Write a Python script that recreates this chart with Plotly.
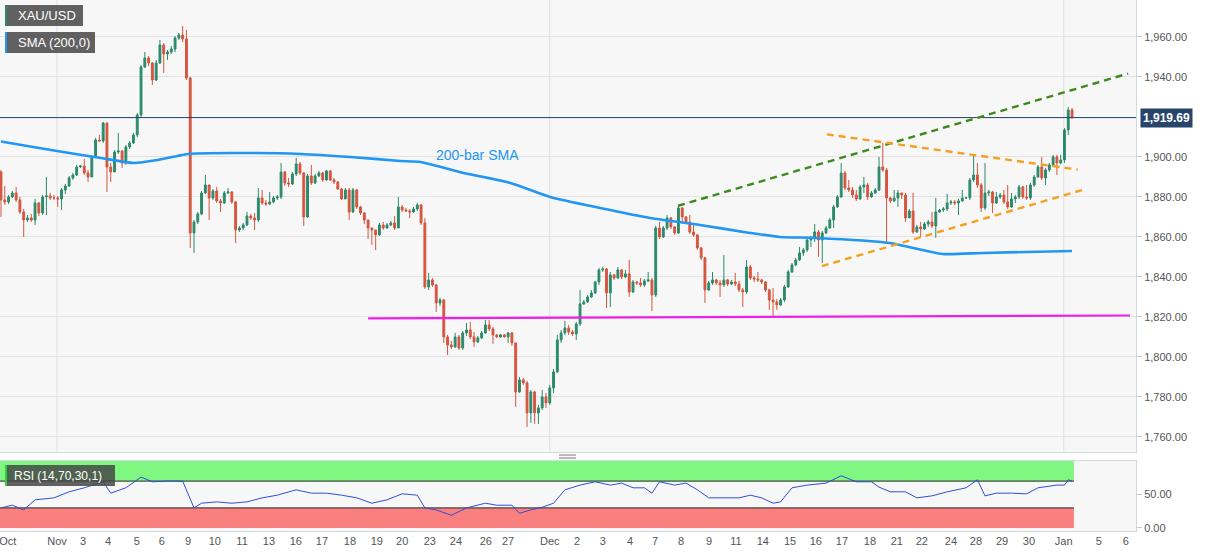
import plotly.graph_objects as go

# ---------------- data (4h candles, XAU/USD) ----------------
first_open = 1892.5
closes = [
    1878.5, 1877.5, 1880, 1882, 1878.5, 1872.5, 1868.5, 1869.5, 1868.5, 1877,
    1872, 1880, 1880.5, 1879.5, 1879.5, 1879, 1883.5, 1885.5, 1889.5, 1891,
    1895, 1895.5, 1892, 1890, 1900, 1908.5, 1908, 1917, 1895, 1892.5,
    1902.5, 1903, 1897, 1905, 1907, 1911, 1921, 1945, 1949.5, 1947,
    1938.5, 1947, 1956, 1951.5, 1952.5, 1954, 1959.5, 1961, 1959, 1939.5,
    1862,
    1867.5, 1871.5, 1882, 1886, 1879.5, 1883, 1878, 1877, 1882, 1882.5,
    1877.5, 1863.5, 1864.5, 1866, 1870.5, 1869.5, 1868.5, 1879.5, 1877, 1876.5,
    1877.5, 1879.5, 1880, 1892.5, 1887, 1886.5, 1891.5, 1896.5, 1892, 1870,
    1890.5, 1887, 1890.5, 1892, 1888.5, 1893, 1888.5, 1887.5, 1884, 1879,
    1883.5, 1872.5, 1883.5, 1875, 1872, 1868.5, 1864.5,
    1863.5, 1861, 1866, 1864.5, 1866, 1867, 1864.5, 1875, 1873.5, 1873,
    1872.5, 1874, 1876, 1867, 1835, 1838.5, 1836, 1827, 1828.5, 1810,
    1806, 1805, 1810, 1804.5, 1812, 1813.5, 1810, 1807.5, 1809.5, 1812,
    1816, 1814, 1811, 1810, 1811, 1810, 1812, 1807, 1782.5, 1788.5,
    1787, 1772, 1782.5, 1772, 1774.5, 1780, 1777, 1784.5, 1792.5,
    1808.5, 1812, 1814.5, 1812.5, 1811.5, 1816.5, 1826.5, 1827.5, 1830, 1832,
    1837.5, 1843.5, 1844, 1832, 1841, 1839.5, 1843.5, 1840, 1841.5, 1832.5,
    1837.5, 1837, 1836, 1838, 1838.5, 1831, 1864.5, 1860, 1864.5, 1869.5,
    1865, 1862, 1874.5, 1870, 1867.5, 1862.5, 1861, 1854.5, 1849.5, 1833.5,
    1837, 1838.5, 1837, 1836, 1838.5, 1836.5,
    1837.5, 1836.5, 1833.5, 1832.5, 1845, 1839.5, 1839, 1838.5, 1837.5, 1833.5,
    1828.5, 1827.5, 1826, 1828.5, 1835, 1842.5, 1846, 1848.5, 1852, 1853.5,
    1858.5, 1859.5, 1862.5, 1858.5, 1862, 1864.5, 1868.5, 1875, 1880, 1892,
    1884.5, 1883.5, 1881, 1879, 1885, 1886, 1880, 1882, 1883.5, 1895,
    1893.5, 1879.5, 1878, 1879.5, 1882,
    1881, 1869.5, 1873, 1862.5, 1865, 1864, 1866.5, 1867.5, 1865.5, 1872.5,
    1873.5, 1874, 1877, 1877.5, 1877, 1878, 1879.5, 1879.6, 1888.5, 1891,
    1886, 1874.5, 1882, 1882.5, 1877, 1880, 1881, 1877.5, 1875, 1879,
    1880, 1885, 1880, 1879.5, 1886, 1890, 1895, 1889.5, 1893.5, 1896,
    1900, 1897, 1898.5, 1913.5, 1923.5, 1919.69,
]
highs = [
    1893.5, 1885.5, 1881, 1883, 1885, 1880, 1874, 1871, 1871.5, 1879,
    1877.5, 1881, 1890, 1882, 1881, 1880.5, 1884.5, 1886.5, 1890.5, 1892,
    1896, 1896, 1899, 1893.5, 1900.5, 1909.5, 1911, 1917.5, 1917, 1897,
    1903.5, 1912, 1903.5, 1906, 1908, 1912, 1922, 1946, 1952.5, 1950.5,
    1947.5, 1948.5, 1958.5, 1957, 1953.5, 1955.5, 1960.5, 1962, 1965.5, 1963.5,
    1940,
    1868.5, 1872.5, 1883, 1891, 1886, 1884, 1885, 1879, 1883, 1884.5,
    1883, 1878, 1865.5, 1867, 1872.5, 1871.5, 1872, 1884.5, 1883.5, 1878.5,
    1882.5, 1880.5, 1881, 1897, 1893, 1889.5, 1892.5, 1899.5, 1897.5, 1892.5,
    1891.5, 1896, 1891.5, 1893, 1892.5, 1893.5, 1893.5, 1889.5, 1888, 1884.5,
    1884.5, 1884.5, 1884.5, 1884, 1875.5, 1872.5, 1868.5,
    1864.5, 1863.5, 1867, 1867.5, 1867, 1868, 1870.5, 1880, 1876, 1874.5,
    1874, 1875, 1877, 1876.5, 1869.5, 1842, 1839.5, 1836.5, 1829.5, 1829,
    1811, 1808, 1812, 1811, 1813, 1817, 1817.5, 1812.5, 1810.5, 1813,
    1818.5, 1818.5, 1815, 1811.5, 1811.5, 1811.5, 1812.5, 1812.5, 1807, 1790,
    1789.5, 1788, 1783.5, 1783, 1776, 1783.5, 1782, 1786, 1794,
    1811, 1813.5, 1818, 1816, 1813.5, 1817.5, 1833.5, 1828.5, 1831, 1833.5,
    1838, 1844.5, 1845, 1844.5, 1842.5, 1841.5, 1845, 1844, 1843.5, 1848.5,
    1838.5, 1838, 1839.5, 1839, 1842.5, 1839.5, 1865.5, 1867.5, 1865.5, 1871,
    1870, 1865.5, 1876, 1875, 1870.5, 1871, 1866, 1861.5, 1855, 1850,
    1838, 1842.5, 1839, 1838.5, 1851, 1839,
    1838.5, 1842, 1838, 1834.5, 1848.5, 1846, 1840.5, 1842.5, 1839, 1838,
    1834, 1834.5, 1829, 1829.5, 1836, 1843.5, 1847, 1849.5, 1855, 1854.5,
    1859.5, 1860.5, 1866.5, 1863.5, 1863, 1865.5, 1869.5, 1876, 1881, 1897,
    1893, 1888.5, 1885, 1883.5, 1886, 1890, 1887, 1883, 1884.5, 1900,
    1907, 1894.5, 1880, 1883.5, 1883.5,
    1882, 1882, 1874, 1882, 1866, 1867.5, 1867.5, 1868.5, 1872.5, 1879.5,
    1874, 1875, 1881.5, 1878.5, 1878.5, 1879, 1883.5, 1880, 1889.5, 1901,
    1897, 1887, 1897, 1883.5, 1883, 1882.5, 1882, 1883.5, 1886, 1882,
    1881, 1886, 1885.5, 1886, 1887, 1891, 1896, 1900, 1894.5, 1897,
    1901, 1901, 1901, 1914.5, 1925, 1924.5,
]
lows = [
    1870, 1876, 1876.5, 1879.5, 1877.5, 1871.5, 1860, 1867.5, 1867.5, 1866,
    1870.5, 1871, 1871, 1878.5, 1878.5, 1875, 1873.5, 1881.5, 1885, 1888.5,
    1890.5, 1894.5, 1891, 1887.5, 1890, 1899.5, 1907.5, 1907, 1882.5, 1887.5,
    1892.5, 1901.5, 1894.5, 1896, 1904, 1906.5, 1910, 1919.5, 1944.5, 1945.5,
    1936, 1938, 1946.5, 1942, 1948.5, 1951.5, 1952.5, 1958.5, 1957.5, 1938.5,
    1854.5,
    1852, 1866.5, 1871, 1881.5, 1868.5, 1878.5, 1877, 1872.5, 1876.5, 1881.5,
    1876.5, 1857, 1862.5, 1863.5, 1865.5, 1868.5, 1863.5, 1867.5, 1876, 1875.5,
    1876, 1877, 1878.5, 1879, 1885.5, 1885, 1886, 1890.5, 1891, 1865.5,
    1869.5, 1886, 1886.5, 1890, 1887.5, 1888, 1888, 1886.5, 1883.5, 1878.5,
    1879, 1868.5, 1872, 1874, 1871, 1866.5, 1859,
    1856, 1853.5, 1860.5, 1863.5, 1864, 1865.5, 1863.5, 1864.5, 1872.5, 1872.5,
    1869.5, 1872, 1873, 1866, 1834, 1833.5, 1835, 1822.5, 1825.5, 1807,
    1801, 1804, 1804.5, 1803.5, 1803.5, 1810.5, 1809, 1805, 1807, 1809,
    1811.5, 1813, 1806.5, 1809.5, 1809.5, 1809.5, 1807, 1805.5, 1775, 1782,
    1786, 1765, 1767, 1766.5, 1766.5, 1773.5, 1774.5, 1776, 1782,
    1792, 1807, 1811, 1811, 1810.5, 1808.5, 1815.5, 1826, 1827, 1829.5,
    1831.5, 1836, 1842.5, 1824.5, 1825, 1838.5, 1839, 1839, 1839.5, 1830,
    1832, 1836, 1835, 1835, 1837.5, 1823, 1830, 1859, 1859.5, 1863.5,
    1864, 1861, 1861.5, 1867.5, 1866.5, 1861.5, 1860, 1853.5, 1848.5, 1827,
    1833, 1836, 1836, 1830, 1835, 1835.5,
    1836, 1835.5, 1832.5, 1825, 1831.5, 1838.5, 1837.5, 1837.5, 1836.5, 1832.5,
    1823.5, 1820, 1823.5, 1825.5, 1827.5, 1834.5, 1842, 1845.5, 1848, 1850.5,
    1852.5, 1855, 1857.5, 1850, 1847, 1861.5, 1864, 1864.5, 1874.5, 1879.5,
    1883.5, 1882.5, 1879.5, 1878, 1878.5, 1882, 1878.5, 1879.5, 1881.5, 1883,
    1892.5, 1857, 1877, 1877.5, 1875,
    1879, 1867.5, 1869.5, 1861.5, 1862, 1860, 1863.5, 1865, 1864.5, 1859.5,
    1872, 1872.5, 1873, 1876, 1876, 1871, 1877.5, 1879, 1878.5, 1887.5,
    1884.5, 1872.5, 1873.5, 1880.5, 1872, 1876.5, 1879, 1876.5, 1874, 1874.5,
    1877, 1879, 1879, 1878.5, 1878.5, 1885, 1889.5, 1888.5, 1886, 1892.5,
    1895, 1891, 1896.5, 1897, 1911, 1919,
]
opens = [first_open] + closes[:-1]
bar_index = list(range(len(closes)))

# 200-bar SMA (bar index, value)
sma_idx = [0, 13.2, 26.4, 35.1, 41.4, 46.7, 49.3, 61.5, 79.2, 92.3, 105.5, 110.8, 122.2,
           134.6, 145.1, 158.3, 171.5, 184.7, 197.9, 205.8, 215.6, 234.8, 248.8, 259.4, 283]
sma_val = [1907.7, 1903.5, 1899.5, 1897, 1898.5, 1900.5, 1901.5, 1902, 1901.5, 1900, 1898,
           1897.5, 1892, 1887, 1880, 1874.5, 1869.5, 1866, 1862, 1860, 1859.5, 1857,
           1851.5, 1852, 1853]

# RSI(14) (bar index, value)
rsi_idx = [0, 3, 6, 9, 14, 18, 22, 27, 29, 33, 37, 40, 44, 48, 51, 53, 57, 61, 65, 69,
           73, 78, 82, 86, 90, 94, 98, 102, 106, 110, 112, 115, 119, 123, 128, 131, 135,
           137, 140, 143, 146, 149, 153, 157, 161, 164, 167, 170, 172, 174, 178, 181, 184,
           187, 191, 195, 198, 201, 204, 206, 209, 213, 218, 222, 226, 230, 232, 235, 239,
           242, 246, 250, 255, 258, 260, 263, 267, 271, 274, 279, 281, 282, 283]
rsi_val = [30, 34, 27, 42, 45, 54, 60, 69, 52, 60, 76, 69, 70, 70, 30, 37, 39, 37, 39, 45,
           49, 57, 52, 52, 49, 45, 37, 42, 51, 49, 30, 27, 19, 30, 37, 34, 34,
           22, 27, 31, 37, 57, 64, 69, 64, 67, 60, 60, 52, 69, 64, 67, 57,
           45, 45, 45, 49, 45, 37, 39, 60, 64, 67, 78, 69, 69, 61, 54, 54,
           45, 48, 54, 60, 72, 48, 52, 52, 51, 60, 64, 64, 72, 70]

# trend lines (bar index, price)
green_line_x = [178.9, 297.8]
green_line_y = [1875.6, 1941.7]
orange_up_x = [218.2, 284.5]
orange_up_y = [1911.3, 1893.7]
orange_low_x = [216.9, 285.9]
orange_low_y = [1845.4, 1883.6]
support_x = [97, 298.3]
support_y = [1819.3, 1820.7]
last_price = 1919.69

# x-axis tick labels (bar index positions)
tick_pos = [1.8, 14.8, 21.7, 28.3, 35.9, 42.5, 49.4, 56.5, 63.7, 70.8, 77.9, 84.8, 92.2,
            99.3, 106, 113.3, 120.2, 128.1, 134, 145, 152.2, 159, 166.2, 172.8, 179.7,
            187.1, 194.2, 201.3, 208.5, 215.3, 222.2, 229.6, 236.7, 243.3, 251, 257.6,
            264.5, 271.6, 280.8, 290.1, 297.2]
tick_text = ["Oct", "Nov", "3", "4", "5", "6", "9", "10", "11", "13", "16", "17", "18",
             "19", "20", "23", "24", "26", "27", "Dec", "2", "3", "4", "7", "8",
             "9", "11", "14", "15", "16", "17", "18", "21", "22", "24", "28",
             "29", "30", "Jan", "5", "6"]
month_ticks = [14.8, 145, 280.8]

price_ticks = [1760, 1780, 1800, 1820, 1840, 1860, 1880, 1900, 1940, 1960]

# ---------------- figure ----------------
FONT = "Liberation Sans, Arial, sans-serif"
GREEN = "#2b8a6b"
RED = "#d6553e"
XR = [-0.26, 299.9]

fig = go.Figure()

fig.add_trace(go.Candlestick(
    x=bar_index, open=opens, high=highs, low=lows, close=closes,
    increasing=dict(line=dict(color=GREEN, width=1), fillcolor=GREEN),
    decreasing=dict(line=dict(color=RED, width=1), fillcolor=RED),
    whiskerwidth=0, xaxis="x", yaxis="y", hoverinfo="skip",
))
fig.add_trace(go.Scatter(x=sma_idx, y=sma_val, mode="lines",
                         line=dict(color="#2196f3", width=2.6, shape="spline", smoothing=0.6),
                         xaxis="x", yaxis="y", hoverinfo="skip"))
fig.add_trace(go.Scatter(x=[XR[0], XR[1]], y=[last_price, last_price], mode="lines",
                         line=dict(color="#23406a", width=1), xaxis="x", yaxis="y",
                         hoverinfo="skip"))
fig.add_trace(go.Scatter(x=support_x, y=support_y, mode="lines",
                         line=dict(color="#ee1fe6", width=2.2), xaxis="x", yaxis="y",
                         hoverinfo="skip"))
fig.add_trace(go.Scatter(x=green_line_x, y=green_line_y, mode="lines",
                         line=dict(color="#3c8a1c", width=2.4, dash="7px,5px"),
                         xaxis="x", yaxis="y", hoverinfo="skip"))
for xs, ys in [(orange_up_x, orange_up_y), (orange_low_x, orange_low_y)]:
    fig.add_trace(go.Scatter(x=xs, y=ys, mode="lines",
                             line=dict(color="#f5a11f", width=2.4, dash="7px,5px"),
                             xaxis="x", yaxis="y", hoverinfo="skip"))

fig.add_trace(go.Scatter(x=rsi_idx, y=rsi_val, mode="lines",
                         line=dict(color="#2f4fd6", width=1),
                         xaxis="x2", yaxis="y2", hoverinfo="skip"))

shapes = []
last_edge = bar_index[-1] + 0.5
# RSI bands
shapes.append(dict(type="rect", xref="x2", yref="y2", x0=XR[0], x1=last_edge, y0=70, y1=100,
                   fillcolor="rgb(128,247,128)", line=dict(width=0), layer="below"))
shapes.append(dict(type="rect", xref="x2", yref="y2", x0=XR[0], x1=last_edge, y0=0, y1=30,
                   fillcolor="rgb(250,128,128)", line=dict(width=0), layer="below"))
for lv in (70, 30):
    shapes.append(dict(type="line", xref="x2", yref="y2", x0=XR[0], x1=last_edge, y0=lv, y1=lv,
                       line=dict(color="#222222", width=1), layer="below"))
# month gridlines
for mx in month_ticks:
    shapes.append(dict(type="line", xref="x", yref="y domain", x0=mx, x1=mx, y0=0, y1=1,
                       line=dict(color="#e0e0e0", width=1), layer="below"))
# legend boxes (paper coordinates)
W, H = 1136.0, 531.0
def px(x):
    return x / W
def py(y):
    return (H - y) / H
for (x0, x1, y0, y1, accent) in [(5, 83, 5, 26, GREEN), (5, 95, 32, 53, "#2196f3"),
                                  (5, 115, 465, 486, "#2ecc40")]:
    shapes.append(dict(type="rect", xref="paper", yref="paper", x0=px(x0), x1=px(x1),
                       y0=py(y1), y1=py(y0), fillcolor="rgba(70,70,70,0.85)",
                       line=dict(width=0), layer="above"))
    shapes.append(dict(type="rect", xref="paper", yref="paper", x0=px(x0), x1=px(x0 + 2),
                       y0=py(y1), y1=py(y0), fillcolor=accent, line=dict(width=0),
                       layer="above"))
# panel separator handle
for yy in (455, 458):
    shapes.append(dict(type="line", xref="paper", yref="paper", x0=px(559), x1=px(576),
                       y0=py(yy), y1=py(yy), line=dict(color="#777777", width=1)))

annotations = [
    dict(xref="paper", yref="paper", x=px(16), y=py(15.5), text="XAU/USD", showarrow=False,
         xanchor="left", yanchor="middle", font=dict(family=FONT, size=13, color="white")),
    dict(xref="paper", yref="paper", x=px(16), y=py(42.5), text="SMA (200,0)", showarrow=False,
         xanchor="left", yanchor="middle", font=dict(family=FONT, size=13, color="white")),
    dict(xref="paper", yref="paper", x=px(12), y=py(475.5), text="RSI (14,70,30,1)",
         showarrow=False, xanchor="left", yanchor="middle",
         font=dict(family=FONT, size=12, color="white")),
    dict(xref="x", yref="y", x=125.8, y=1901, text="200-bar SMA", showarrow=False,
         xanchor="center", yanchor="middle", font=dict(family=FONT, size=14, color="#2196f3")),
    dict(xref="paper", yref="y", x=1.0035, y=last_price, text="<b>1,919.69</b>",
         showarrow=False, xanchor="left", yanchor="middle", bgcolor="#27456b",
         borderpad=2, font=dict(family=FONT, size=12, color="white")),
]

axis_line = dict(showline=True, mirror=True, linecolor="#d3d7de", linewidth=1)
fig.update_layout(
    width=1207, height=555,
    margin=dict(l=0, r=71, t=0, b=24),
    paper_bgcolor="white", plot_bgcolor="#f7f7f7",
    showlegend=False,
    font=dict(family=FONT, size=11, color="#555555"),
    shapes=shapes, annotations=annotations,
    xaxis=dict(domain=[0, 1], range=XR, anchor="y", showticklabels=False, showgrid=False,
               zeroline=False, rangeslider=dict(visible=False), **axis_line),
    yaxis=dict(domain=[0.149, 1], range=[1752.5, 1978.5], side="right", tickvals=price_ticks,
               tickformat=",.2f", ticks="outside", ticklen=5, tickcolor="#c8c8c8",
               gridcolor="#e3e3e3", zeroline=False, tickfont=dict(size=11, color="#555555"),
               **axis_line),
    xaxis2=dict(domain=[0, 1], range=XR, anchor="y2", matches="x", tickmode="array",
                tickvals=tick_pos, ticktext=tick_text, showgrid=False, zeroline=False,
                ticks="", ticklabeloverflow="allow",
                tickfont=dict(size=11, color="#555555"), **axis_line),
    yaxis2=dict(domain=[0, 0.1318], range=[-4.5, 100], side="right", tickvals=[0, 50],
                tickformat=".2f", ticks="outside", ticklen=5, tickcolor="#c8c8c8",
                showgrid=False, zeroline=False, tickfont=dict(size=11, color="#555555"),
                **axis_line),
)

fig.write_html("out.html", config={"displayModeBar": False},
               post_script="document.body.style.margin='0';document.body.style.overflow='hidden';")
